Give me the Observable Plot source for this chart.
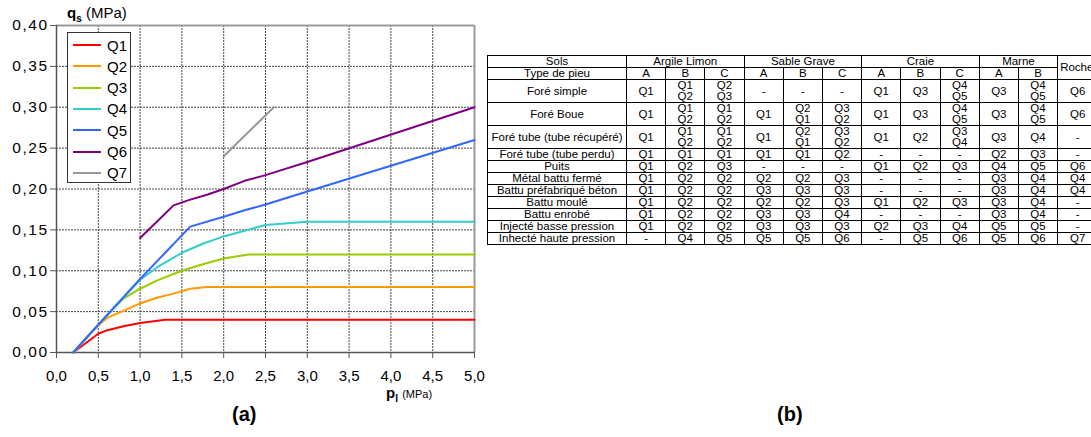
<!DOCTYPE html>
<html>
<head>
<meta charset="utf-8">
<script src="https://cdn.jsdelivr.net/npm/d3@7"></script>
<script src="https://cdn.jsdelivr.net/npm/@observablehq/plot@0.6"></script>
<style>
  html, body { margin: 0; padding: 0; background: #fff; }
  #root { position: relative; width: 1091px; height: 437px; overflow: hidden; font-family: "Liberation Sans", Arial, sans-serif; color: #000; }
  #chart { position: absolute; left: 0; top: 0; }
  .abs { position: absolute; white-space: nowrap; }
  #legend { position: absolute; left: 67px; top: 32px; width: 64px; height: 151px; border: 1.5px solid #333; background: #fff; box-sizing: border-box; }
  .lg-row { position: absolute; left: 5px; height: 20px; display: flex; align-items: center; font-size: 15px; }
  .lg-sw { width: 28px; height: 2px; margin-right: 6px; }
  #tbl { position: absolute; left: 487px; top: 55px; border-collapse: collapse; table-layout: fixed; font-family: "Liberation Sans Narrow", "Arial Narrow", "Liberation Sans", Arial, sans-serif; font-size: 11.5px; }
  #tbl td { border: 1.5px solid #000; text-align: center; vertical-align: middle; padding: 0; line-height: 11px; height: 11px; overflow: hidden; white-space: nowrap; }
</style>
</head>
<body>
<div id="root">
  <div id="chart"></div>
  <div id="legend"></div>
  <div class="abs" style="left:67px; top:4px; font-size:15px;"><b>q<sub style="font-size:10px;">s</sub></b> (MPa)</div>
  <div class="abs" style="left:386px; top:384px; font-size:15px;"><b>p<sub style="font-size:10px;">l</sub></b> <span style="font-size:11px;">(MPa)</span></div>
  <div class="abs" style="left:232px; top:403px; font-size:20px; font-weight:bold;">(a)</div>
  <div class="abs" style="left:777px; top:403px; font-size:20px; font-weight:bold;">(b)</div>
  <table id="tbl"></table>
</div>
<script>
// ---------- chart data ----------
const seriesNames = ["Q1", "Q2", "Q3", "Q4", "Q5", "Q6", "Q7"];
const seriesColors = ["#ff0000", "#ff9900", "#99cc00", "#33cccc", "#3366ff", "#800080", "#969696"];

const q1P = [0.2, 0.5, 0.6, 0.8, 1.0, 1.3, 5.0];
const q1Q = [0, 0.023, 0.027, 0.032, 0.036, 0.04, 0.04];
const q2P = [0.2, 0.5, 0.6, 0.8, 1.0, 1.2, 1.4, 1.6, 1.8, 5.0];
const q2Q = [0, 0.033, 0.042, 0.051, 0.06, 0.067, 0.072, 0.078, 0.08, 0.08];
const q3P = [0.2, 0.5, 0.8, 1.0, 1.2, 1.5, 1.75, 2.0, 2.3, 5.0];
const q3Q = [0, 0.034, 0.066, 0.078, 0.088, 0.1, 0.108, 0.115, 0.12, 0.12];
const q4P = [0.2, 0.5, 1.0, 1.2, 1.5, 1.75, 2.0, 2.25, 2.5, 3.0, 5.0];
const q4Q = [0, 0.034, 0.089, 0.104, 0.122, 0.133, 0.142, 0.149, 0.156, 0.16, 0.16];
const q5P = [0.2, 0.5, 1.0, 1.3, 1.6, 2.0, 2.25, 2.5, 3.0, 5.0];
const q5Q = [0, 0.034, 0.09, 0.122, 0.154, 0.166, 0.174, 0.181, 0.197, 0.26];
const q6P = [1.0, 1.2, 1.4, 1.6, 1.8, 2.0, 2.25, 2.5, 3.0, 5.0];
const q6Q = [0.14, 0.16, 0.18, 0.187, 0.193, 0.2, 0.21, 0.217, 0.233, 0.30];
const q7P = [2.0, 2.6];
const q7Q = [0.24, 0.30];

const xTicks = [0, 0.5, 1, 1.5, 2, 2.5, 3, 3.5, 4, 4.5, 5];
const yTicks = [0, 0.05, 0.10, 0.15, 0.20, 0.25, 0.30, 0.35, 0.40];

// ---------- table data ----------
const soilGroups = ["Argile Limon", "Sable Grave", "Craie", "Marne"];
const soilSpans = [3, 3, 3, 2];
const lastSoil = "Roche";
const subColumns = ["A", "B", "C", "A", "B", "C", "A", "B", "C", "A", "B"];
const pileTypes = [
  "Foré simple", "Foré Boue", "Foré tube (tube récupéré)", "Foré tube (tube perdu)",
  "Puits", "Métal battu fermé", "Battu préfabriqué béton", "Battu moulé",
  "Battu enrobé", "Injecté basse pression", "Inhecté haute pression"
];
const cellValues = [
  ["Q1", "Q1/Q2", "Q2/Q3", "-", "-", "-", "Q1", "Q3", "Q4/Q5", "Q3", "Q4/Q5", "Q6"],
  ["Q1", "Q1/Q2", "Q1/Q2", "Q1", "Q2/Q1", "Q3/Q2", "Q1", "Q3", "Q4/Q5", "Q3", "Q4/Q5", "Q6"],
  ["Q1", "Q1/Q2", "Q1/Q2", "Q1", "Q2/Q1", "Q3/Q2", "Q1", "Q2", "Q3/Q4", "Q3", "Q4", "-"],
  ["Q1", "Q1", "Q1", "Q1", "Q1", "Q2", "-", "-", "-", "Q2", "Q3", "-"],
  ["Q1", "Q2", "Q3", "-", "-", "-", "Q1", "Q2", "Q3", "Q4", "Q5", "Q6"],
  ["Q1", "Q2", "Q2", "Q2", "Q2", "Q3", "-", "-", "-", "Q3", "Q4", "Q4"],
  ["Q1", "Q2", "Q2", "Q3", "Q3", "Q3", "-", "-", "-", "Q3", "Q4", "Q4"],
  ["Q1", "Q2", "Q2", "Q2", "Q2", "Q3", "Q1", "Q2", "Q3", "Q3", "Q4", "-"],
  ["Q1", "Q2", "Q2", "Q3", "Q3", "Q4", "-", "-", "-", "Q3", "Q4", "-"],
  ["Q1", "Q2", "Q2", "Q3", "Q3", "Q3", "Q2", "Q3", "Q4", "Q5", "Q5", "-"],
  ["-", "Q4", "Q5", "Q5", "Q5", "Q6", "-", "Q5", "Q6", "Q5", "Q6", "Q7"]
];

// ---------- build chart ----------
const seriesP = [q1P, q2P, q3P, q4P, q5P, q6P, q7P];
const seriesQ = [q1Q, q2Q, q3Q, q4Q, q5Q, q6Q, q7Q];
const lineData = [];
seriesNames.forEach((name, i) => {
  seriesP[i].forEach((p, j) => lineData.push({ s: name, p, q: seriesQ[i][j] }));
});
const fmt = (n, d) => n.toFixed(d).replace(".", ",");

const chart = Plot.plot({
  width: 480,
  height: 400,
  marginLeft: 56,
  marginRight: 6,
  marginTop: 25,
  marginBottom: 48,
  style: { fontFamily: "'Liberation Sans', Arial, sans-serif", fontSize: "15px", color: "#000", background: "#fff", overflow: "visible" },
  x: { domain: [0, 5] },
  y: { domain: [0, 0.4] },
  color: { domain: seriesNames, range: seriesColors },
  marks: [
    Plot.gridX(xTicks, { stroke: "#333", strokeOpacity: 0.9, strokeDasharray: "2,1" }),
    Plot.gridY(yTicks, { stroke: "#333", strokeOpacity: 0.9, strokeDasharray: "2,1" }),
    Plot.ruleX([5], { stroke: "#9a9a9a", strokeWidth: 2 }),
    Plot.ruleY([0.4], { stroke: "#9a9a9a", strokeWidth: 2 }),
    Plot.axisX({ ticks: xTicks, tickFormat: d => fmt(d, 1), tickSize: 6, tickPadding: 12, label: null, stroke: "#555" }),
    Plot.axisY({ ticks: yTicks, tickFormat: d => fmt(d, 2), tickSize: 6, tickPadding: 2, label: null, stroke: "#555", fontSize: 15.5 }),
    Plot.ruleX([0], { stroke: "#555", strokeWidth: 1.5 }),
    Plot.ruleY([0], { stroke: "#555", strokeWidth: 1.5 }),
    Plot.line(lineData, { x: "p", y: "q", z: "s", stroke: "s", strokeWidth: 2 })
  ]
});
d3.select(chart).selectAll('g[aria-label="y-axis tick label"] text').style("letter-spacing", "1.5px");
document.getElementById("chart").appendChild(chart);

// ---------- legend ----------
const legend = document.getElementById("legend");
seriesNames.forEach((name, i) => {
  const row = document.createElement("div");
  row.className = "lg-row";
  row.style.top = (2 + i * 21.3) + "px";
  const sw = document.createElement("div");
  sw.className = "lg-sw";
  sw.style.background = seriesColors[i];
  row.appendChild(sw);
  row.appendChild(document.createTextNode(name));
  legend.appendChild(row);
});

// ---------- table ----------
const tbl = document.getElementById("tbl");
const colg = document.createElement("colgroup");
const colWidths = [139].concat(subColumns.map(() => 39.2), [40]);
colWidths.forEach(w => { const c = document.createElement("col"); c.style.width = w + "px"; colg.appendChild(c); });
tbl.appendChild(colg);
tbl.style.width = colWidths.reduce((a, b) => a + b, 0) + "px";

const tr1 = document.createElement("tr");
const th0 = document.createElement("td"); th0.textContent = "Sols"; tr1.appendChild(th0);
soilGroups.forEach((g, i) => { const td = document.createElement("td"); td.colSpan = soilSpans[i]; td.textContent = g; tr1.appendChild(td); });
const roche = document.createElement("td"); roche.rowSpan = 2; roche.textContent = lastSoil; roche.style.textAlign = "left"; roche.style.paddingLeft = "2px"; tr1.appendChild(roche);
tbl.appendChild(tr1);

const tr2 = document.createElement("tr");
const t20 = document.createElement("td"); t20.textContent = "Type de pieu"; tr2.appendChild(t20);
subColumns.forEach(s => { const td = document.createElement("td"); td.textContent = s; tr2.appendChild(td); });
tbl.appendChild(tr2);

pileTypes.forEach((pt, r) => {
  const tr = document.createElement("tr");
  const td0 = document.createElement("td"); td0.textContent = pt; tr.appendChild(td0);
  cellValues[r].forEach(v => {
    const td = document.createElement("td");
    v.split("/").forEach((part, k) => {
      if (k > 0) td.appendChild(document.createElement("br"));
      td.appendChild(document.createTextNode(part));
    });
    tr.appendChild(td);
  });
  tbl.appendChild(tr);
});
</script>
</body>
</html>
